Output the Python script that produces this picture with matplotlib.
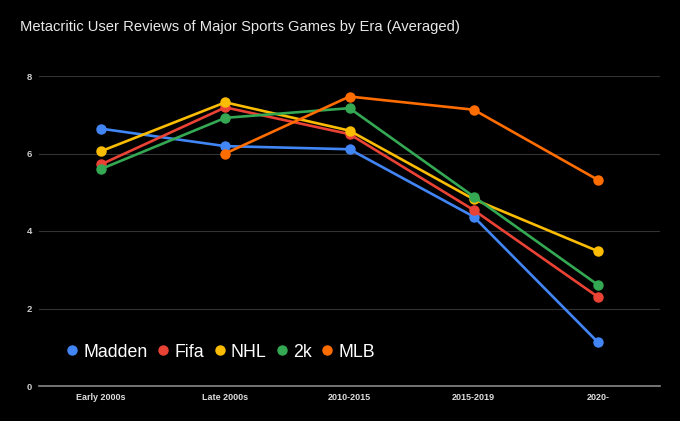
import numpy as np
import matplotlib.pyplot as plt

eras = ['Early 2000s', 'Late 2000s', '2010-2015', '2015-2019', '2020-']
madden = [6.64, 6.19, 6.11, 4.37, 1.13]
fifa = [5.72, 7.19, 6.50, 4.54, 2.30]
nhl = [6.06, 7.32, 6.59, 4.82, 3.48]
nba2k = [5.60, 6.92, 7.17, 4.89, 2.61]
mlb = [np.nan, 6.00, 7.47, 7.13, 5.32]

series = [
    ('Madden', madden, '#4285F4'),
    ('Fifa', fifa, '#EA4335'),
    ('NHL', nhl, '#FBBC04'),
    ('2k', nba2k, '#34A853'),
    ('MLB', mlb, '#FF6D01'),
]

plt.rcParams['font.family'] = ['Arial', 'Liberation Sans', 'DejaVu Sans']

fig = plt.figure(figsize=(6.8, 4.21), dpi=100, facecolor='black')
ax = fig.add_axes([39 / 680, 1 - 386 / 421, 621 / 680, 310 / 421])
ax.set_facecolor('black')

x = np.arange(len(eras))
for name, vals, color in series:
    ax.plot(x, vals, color=color, lw=1.9, marker='o', ms=6.5, label=name, zorder=3)

ax.set_xlim(-0.5, len(eras) - 0.5)
ax.set_ylim(0, 8)
ax.set_yticks([0, 2, 4, 6, 8])
ax.set_xticks(x)
ax.set_xticklabels(eras, fontsize=6.5, fontweight='bold', color='#dddddd')
ax.set_yticklabels(['0', '2', '4', '6', '8'], fontsize=6.8, fontweight='bold', color='#cccccc')
ax.tick_params(length=0, pad=5)
ax.grid(axis='y', color='#333333', lw=0.8, zorder=0)
for s in ['top', 'right', 'left']:
    ax.spines[s].set_visible(False)
ax.spines['bottom'].set_color('#888888')
ax.spines['bottom'].set_linewidth(1.2)

leg = ax.legend(loc='lower left', bbox_to_anchor=(0.02, 0.03), ncol=5, frameon=False,
                fontsize=12.8, handlelength=0.55, handletextpad=0.35, columnspacing=0.6,
                labelcolor='white')
for h in leg.legend_handles:
    h.set_linestyle('none')

fig.text(20 / 680, 1 - 27 / 421, 'Metacritic User Reviews of Major Sports Games by Era (Averaged)',
         fontsize=10.6, color='#e8e8e8', va='center', ha='left')

fig.savefig('out.png', dpi=100, facecolor='black')
